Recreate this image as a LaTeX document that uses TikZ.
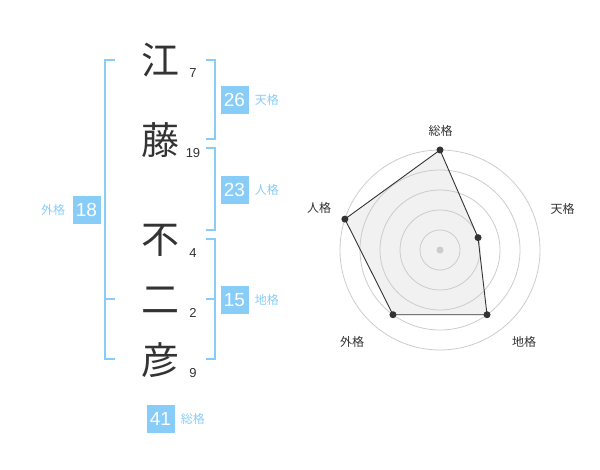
\documentclass[tikz,border=0pt]{standalone}
\usepackage{fontspec}
\setmainfont{Liberation Sans}
\newfontfamily\jp{Noto Sans CJK JP}
\usepackage{xcolor}
\usepackage{tikz}
\usetikzlibrary{positioning,calc}

\definecolor{kakublue}{HTML}{88CCF8}
\definecolor{inkgray}{HTML}{333333}
\definecolor{ringgray}{HTML}{CCCCCC}
\definecolor{areagray}{HTML}{F1F1F1}

\tikzset{
  kanji/.style={text=inkgray, font=\jp\fontsize{38}{38}\selectfont, inner sep=0pt},
  strokes/.style={text=inkgray, font=\fontsize{13}{13}\selectfont, inner sep=0pt},
  kakubox/.style={fill=kakublue, text=white, minimum size=28pt, inner sep=0pt,
    font=\fontsize{19}{19}\selectfont},
  kakuname/.style={text=kakublue, font=\jp\fontsize{12}{12}\selectfont, inner sep=0pt},
  bracket/.style={draw=kakublue, line width=2pt},
  axisname/.style={text=inkgray, font=\jp\fontsize{12}{12}\selectfont, inner sep=0pt},
  ring/.style={draw=ringgray, line width=0.8pt},
  score/.style={fill=inkgray}
}

\begin{document}
\begin{tikzpicture}[x=1pt, y=-1pt]
  \useasboundingbox (0,0) rectangle (600,470);

  % Name characters
  \node[kanji] (k1) at (160,60) {江};
  \node[kanji] (k2) at (160,140) {藤};
  \node[kanji] (k3) at (160,240) {不};
  \node[kanji] (k4) at (160,300) {二};
  \node[kanji] (k5) at (160,360) {彦};
  \node[strokes] (s1) at (193,73) {7};
  \node[strokes] (s2) at (193,153) {19};
  \node[strokes] (s3) at (193,253) {4};
  \node[strokes] (s4) at (193,313) {2};
  \node[strokes] (s5) at (193,373) {9};

  % Outer bracket
  \draw[bracket] (115,60) -- (105,60) -- (105,359) -- (115,359);
  \draw[bracket] (105,299) -- (115,299);
  \node[kakubox] (gai) at (86.5,210) {18};
  \node[kakuname, left=7pt of gai] (gainame) {外格};

  % Right brackets
  \draw[bracket] (206,60) -- (215,60) -- (215,139) -- (206,139);
  \node[kakubox] (ten) at (234.5,100) {26};
  \node[kakuname, right=6pt of ten] (tenname) {天格};

  \draw[bracket] (206,148) -- (215,148) -- (215,230) -- (206,230);
  \node[kakubox] (jin) at (234.5,190) {23};
  \node[kakuname, right=6pt of jin] (jinname) {人格};

  \draw[bracket] (206,239) -- (215,239) -- (215,359) -- (206,359);
  \draw[bracket] (215,299) -- (206,299);
  \node[kakubox] (chi) at (234.5,300) {15};
  \node[kakuname, right=6pt of chi] (chiname) {地格};

  % Total
  \node[kakubox] (sou) at (160.5,419) {41};
  \node[kakuname, right=6pt of sou] (souname) {総格};

  % Radar chart
  \begin{scope}[shift={(440,250)}, y=1pt]
    \coordinate (c) at (0,0);
    \coordinate (pSou) at (90:100);
    \coordinate (pTen) at (18:40);
    \coordinate (pChi) at (-54:80);
    \coordinate (pGai) at (-126:80);
    \coordinate (pJin) at (162:100);
    \fill[areagray] (pSou) -- (pTen) -- (pChi) -- (pGai) -- (pJin) -- cycle;
    \draw[ring] (c) circle (20) (c) circle (40) (c) circle (60)
      (c) circle (80) (c) circle (100);
    \fill[ringgray] (c) circle (3.5);
    \draw[inkgray, line width=0.9pt] (pSou) -- (pTen) -- (pChi) -- (pGai) -- (pJin) -- cycle;
    \fill[score] (pSou) circle (3.5) (pTen) circle (3.5) (pChi) circle (3.5)
      (pGai) circle (3.5) (pJin) circle (3.5);
  \end{scope}
  \node[axisname] (aSou) at (440.5,131) {総格};
  \node[axisname] (aTen) at (562.5,208.5) {天格};
  \node[axisname] (aChi) at (524,342) {地格};
  \node[axisname] (aGai) at (352,342) {外格};
  \node[axisname] (aJin) at (319,208) {人格};
\end{tikzpicture}
\end{document}
